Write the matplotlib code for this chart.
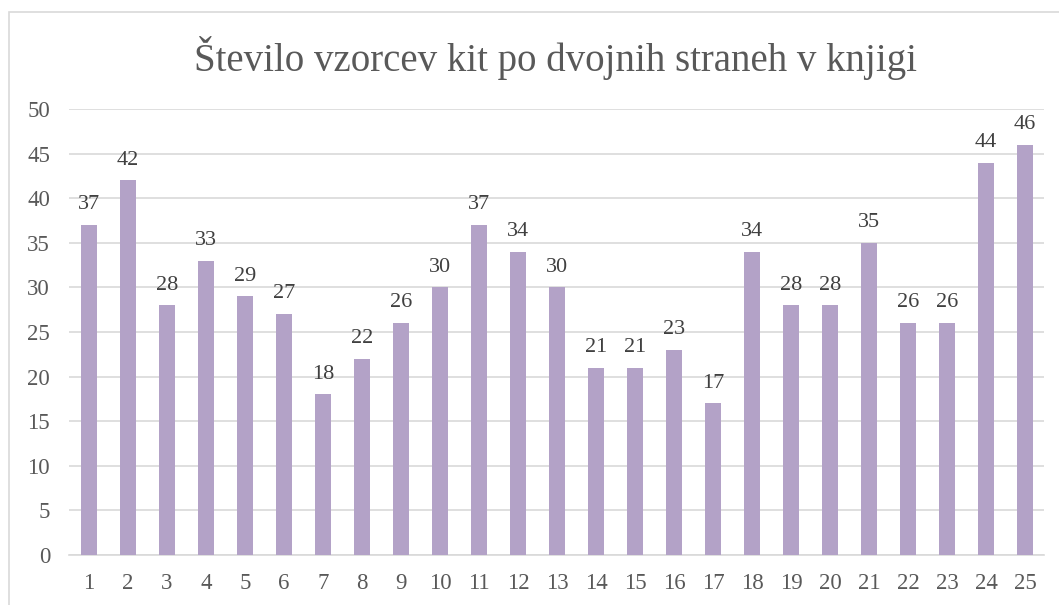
import matplotlib.pyplot as plt
from matplotlib.patches import Rectangle

plt.rcParams['font.family'] = ['Liberation Serif', 'DejaVu Serif']

# Data
pages = [str(i) for i in range(1, 26)]
counts = [37, 42, 28, 33, 29, 27, 18, 22, 26, 30, 37, 34, 30,
          21, 21, 23, 17, 34, 28, 28, 35, 26, 26, 44, 46]
y_ticks = [0, 5, 10, 15, 20, 25, 30, 35, 40, 45, 50]

bar_color = "#B3A2C7"
text_color = "#595959"
grid_color = "#D9D9D9"

fig = plt.figure(figsize=(10.59, 6.05), dpi=100)
ax = fig.add_axes([0.0656, 0.0826, 0.9207, 0.7372])

x = range(len(pages))
bars = ax.bar(x, counts, width=0.41, color=bar_color, zorder=3)

# Data labels above each bar
for xi, v in zip(x, counts):
    ax.text(xi, v + 1.2, str(v), ha="center", va="bottom",
            fontsize=16, color="#404040")

ax.set_xlim(-0.5, len(pages) - 0.5)
ax.set_ylim(0, 50)
ax.set_yticks(y_ticks)
ax.set_xticks(list(x))
ax.set_xticklabels(pages)
ax.tick_params(axis="both", length=0, labelsize=16.5, labelcolor=text_color)
ax.tick_params(axis="x", pad=13)
ax.tick_params(axis="y", pad=14)
ax.yaxis.grid(True, color=grid_color, linewidth=1.2, zorder=0)
for side in ["top", "right", "left"]:
    ax.spines[side].set_visible(False)
ax.spines["bottom"].set_color(grid_color)
ax.spines["bottom"].set_linewidth(1.2)

fig.text(0.525, 0.904, "Število vzorcev kit po dvojnih straneh v knjigi",
         ha="center", va="center", fontsize=28, color=text_color)

# Chart frame
fig.patches.append(Rectangle((0.0085, -0.05), 1.1, 1.03, transform=fig.transFigure,
                             fill=False, edgecolor=grid_color, linewidth=1.2))

fig.savefig("out.png", dpi=100)
